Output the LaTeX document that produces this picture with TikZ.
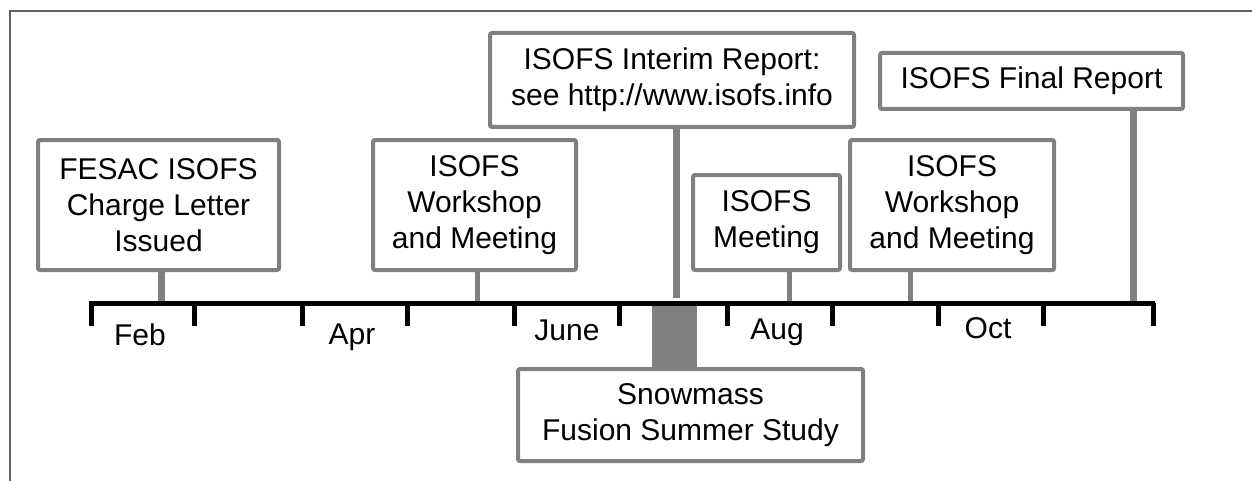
\documentclass[tikz,border=0pt]{standalone}
\usepackage{fontspec}
\setmainfont{Liberation Sans}
\definecolor{boxgray}{RGB}{128,128,128}
\definecolor{framegray}{RGB}{96,96,96}

\begin{document}
\begin{tikzpicture}[x=0.5pt,y=-0.5pt,
  event/.style={draw=boxgray, line width=2pt, rounded corners=1pt,
    align=center, inner sep=0pt, font=\fontsize{15}{18}\selectfont},
  stem/.style={draw=boxgray, line width=2.5pt},
  bigstem/.style={draw=boxgray, line width=3.5pt},
  month/.style={font=\fontsize{15}{18}\selectfont},
  axis/.style={line width=2.5pt}]
  \useasboundingbox (0,0) rectangle (1252,481);
  \draw[framegray, line width=1pt] (10,481) -- (10,11) -- (1252,11);
  \node[event, minimum width=120.5pt, minimum height=65pt] (fesac) at (158.5,205)
    {FESAC ISOFS\\Charge Letter\\Issued};
  \node[event, minimum width=101.5pt, minimum height=65pt] (aprws) at (474.5,205)
    {ISOFS\\Workshop\\and Meeting};
  \node[event, minimum width=182pt, minimum height=47pt] (interim) at (672,80)
    {ISOFS Interim Report:\\see http://www.isofs.info};
  \node[event, minimum width=73.5pt, minimum height=47.5pt] (meet) at (766.5,222.5)
    {ISOFS\\Meeting};
  \node[event, minimum width=102pt, minimum height=65pt] (octws) at (952,205)
    {ISOFS\\Workshop\\and Meeting};
  \node[event, minimum width=151.5pt, minimum height=28pt] (final) at (1031.5,81)
    {ISOFS Final Report};
  \node[event, minimum width=172.5pt, minimum height=46pt] (snow) at (690.5,415)
    {Snowmass\\Fusion Summer Study};
  \coordinate (tfesac) at (161,303);
  \coordinate (taprws) at (477,303);
  \coordinate (tinterim) at (676,298);
  \coordinate (tmeet) at (789,303);
  \coordinate (toctws) at (910,303);
  \coordinate (tfinal) at (1133,303);
  \coordinate (snowa) at (652,303);
  \coordinate (snowb) at (697,303);
  \draw[bigstem] (tfesac |- fesac.south) -- (tfesac);
  \draw[stem] (taprws |- aprws.south) -- (taprws);
  \draw[bigstem] (tinterim |- interim.south) -- (tinterim);
  \draw[stem] (tmeet |- meet.south) -- (tmeet);
  \draw[stem] (toctws |- octws.south) -- (toctws);
  \draw[bigstem] (tfinal |- final.south) -- (tfinal);
  \fill[boxgray] (snowa) rectangle (snowb |- snow.north);
  \draw[axis] (89,303) -- (1155,303);
  \foreach \x in {91,194,302,407,514,619,727,832,938,1043,1153}
    \draw[axis] (\x,303) -- (\x,326);
  \node[month] (feb) at (140,335) {Feb};
  \node[month] (apr) at (352,337) {Apr};
  \node[month] (jun) at (567,330) {June};
  \node[month] (aug) at (777,332) {Aug};
  \node[month] (oct) at (988,328) {Oct};
\end{tikzpicture}
\end{document}
